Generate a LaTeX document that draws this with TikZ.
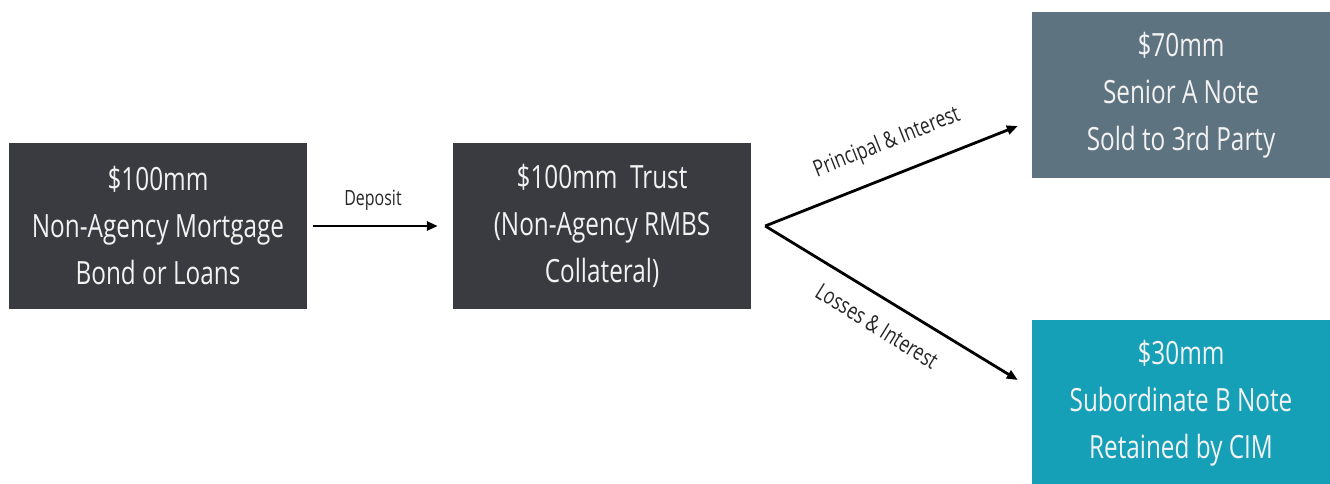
\documentclass[tikz,border=0pt]{standalone}
\usepackage{fontspec}
\setmainfont{Open Sans}[FakeStretch=0.76]
\usetikzlibrary{arrows.meta}
\definecolor{darkbox}{HTML}{3A3B40}
\definecolor{slatebox}{HTML}{5E7380}
\definecolor{tealbox}{HTML}{16A0B8}
\definecolor{boxtext}{HTML}{F2F2F2}
\tikzset{
  fbox/.style={draw=none, minimum width=298pt, minimum height=166pt, inner sep=0pt,
    align=center, text=boxtext, font=\fontsize{32}{47}\selectfont},
  flow/.style={line width=2.8pt, -{Triangle[length=11pt,width=9pt]}},
  lbl/.style={font=\fontsize{21}{24}\selectfont, text=black!85, inner sep=0pt},
  slbl/.style={lbl, font=\fontsize{23}{26}\selectfont}
}
\begin{document}
\begin{tikzpicture}[x=1pt,y=1pt]
\useasboundingbox (0,0) rectangle (1330,483);
\fill[white] (0,0) rectangle (1330,483);
\node[fbox, fill=darkbox] (src) at (158,257) {\$100mm\\Non-Agency Mortgage\\Bond or Loans};
\node[fbox, fill=darkbox] (trust) at (602,257) {\$100mm\ \ Trust\\(Non-Agency RMBS\\Collateral)};
\node[fbox, fill=slatebox] (senior) at (1181,388) {\$70mm\\Senior A Note\\Sold to 3rd Party};
\node[fbox, fill=tealbox] (sub) at (1181,80) {\$30mm\\Subordinate B Note\\Retained by CIM};
\coordinate (apex) at ([xshift=14pt]trust.east);
\coordinate (tipA) at ([xshift=-14pt,yshift=-31pt]senior.west);
\coordinate (tipB) at ([xshift=-14pt,yshift=23pt]sub.west);
\draw[flow, shorten <=6pt, shorten >=15pt] (src.east) -- (trust.west);
\draw[flow] (apex) -- (tipA);
\draw[flow] (apex) -- (tipB);
\node[lbl] (dep) at (373,283) {Deposit};
\node[slbl, rotate=21.6] (pi) at (887,340) {Principal \& Interest};
\node[slbl, rotate=-32] (li) at (877,157) {Losses \& Interest};
\end{tikzpicture}
\end{document}
